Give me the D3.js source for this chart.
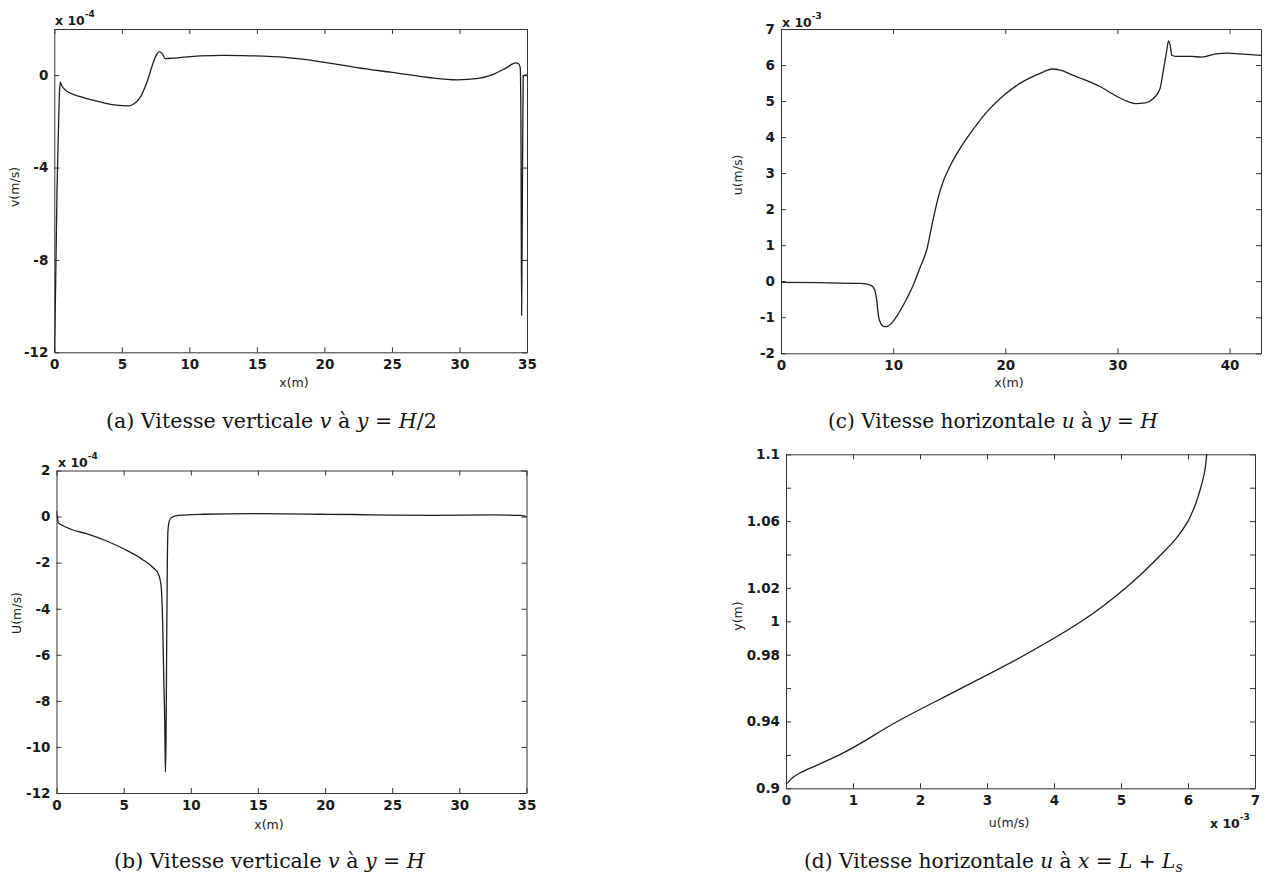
<!DOCTYPE html>
<html><head><meta charset="utf-8">
<script src="https://cdn.jsdelivr.net/npm/d3@7"></script>
<style>
body{margin:0;background:#fff}
svg{display:block}
.tick text{font-family:"DejaVu Sans",sans-serif;font-weight:bold;font-size:13.5px;fill:#1a1a1a}
.domain,.tick line{stroke:#333;stroke-width:1}
</style>
</head><body>
<svg id="c" width="1269" height="878"></svg>
<script>
// ---- Panel (a): vertical velocity v at y = H/2 (x 1e-4)
const aX = [0.02,0.1,0.2,0.3,0.38,0.44,0.55,0.9,1.5,2.15,3.4,4.6,5.5,5.85,6.35,6.85,7.33,7.6,7.8,8.0,8.2,8.8,10.8,12.5,14.5,17.1,19.75,22.4,25.0,27.7,29.8,31.4,32.4,33.5,34.15,34.37,34.5,34.55,34.6,34.66,34.72,34.8,35];
const aV = [-12,-9,-5,-2.5,-0.8,-0.3,-0.45,-0.68,-0.85,-0.97,-1.16,-1.3,-1.33,-1.26,-0.97,-0.32,0.55,0.92,1.02,0.92,0.72,0.74,0.84,0.86,0.84,0.77,0.58,0.33,0.12,-0.1,-0.2,-0.14,0.01,0.33,0.53,0.5,0.33,-2,-10.4,-5,-0.1,0,0];
const aXTicks = [0,5,10,15,20,25,30,35];
const aYTicks = [-12,-8,-4,0];

// ---- Panel (b): vertical velocity v at y = H (x 1e-4)
const bX = [0,0.05,0.13,0.5,1.07,2.4,3.73,5.07,6.4,7.2,7.6,7.79,7.9,8.0,8.06,8.11,8.16,8.2,8.25,8.3,8.4,8.54,9.07,11,14.4,17,19.7,22,25.1,28,32.5,34.5,35];
const bV = [0.25,0.05,-0.26,-0.4,-0.55,-0.77,-1.06,-1.42,-1.86,-2.22,-2.51,-3.02,-4.47,-7.38,-8.83,-11.1,-9.5,-5.9,-2.2,-0.6,-0.2,-0.05,0.05,0.1,0.13,0.12,0.1,0.09,0.06,0.05,0.07,0.05,0];
const bXTicks = [0,5,10,15,20,25,30,35];
const bYTicks = [-12,-10,-8,-6,-4,-2,0,2];

// ---- Panel (c): horizontal velocity u at y = H (x 1e-3)
const cX = [0,3.5,7.1,8.0,8.36,8.53,8.7,8.9,9.17,9.4,9.78,10.3,11.0,11.73,12.4,13.0,13.5,14.0,14.5,15.0,16.0,17.1,18.5,19.9,21.3,23.1,24.2,24.9,26.0,27.0,28.4,29.5,30.6,31.6,32.5,33.2,33.8,34.1,34.4,34.55,34.7,34.85,35.2,36.6,37.5,38.8,39.8,40.9,42.8];
const cU = [-0.03,-0.04,-0.06,-0.11,-0.24,-0.52,-0.98,-1.17,-1.26,-1.26,-1.19,-0.98,-0.61,-0.15,0.38,0.88,1.62,2.3,2.8,3.15,3.7,4.2,4.75,5.17,5.49,5.77,5.89,5.86,5.72,5.6,5.41,5.21,5.03,4.93,4.95,5.07,5.35,5.86,6.41,6.67,6.55,6.27,6.24,6.24,6.22,6.31,6.33,6.31,6.27];
const cXTicks = [0,10,20,30,40];
const cYTicks = [-2,-1,0,1,2,3,4,5,6,7];

// ---- Panel (d): horizontal velocity u at x = L + Ls (u x 1e-3)
const dU = [0.02,0.1,0.2,0.5,0.82,1.66,2.62,3.57,4.41,5.07,5.6,5.83,6.0,6.11,6.19,6.25,6.28];
const dY = [0.903,0.9065,0.909,0.9145,0.9205,0.94,0.96,0.98,1.0,1.02,1.04,1.05,1.06,1.07,1.08,1.09,1.1];
const dXTicks = [0,1,2,3,4,5,6,7];
const dYTicks = [0.9,0.92,0.94,0.96,0.98,1.0,1.02,1.04,1.06,1.08,1.1];
const dYLabelled = [0.9,0.94,0.98,1.0,1.02,1.06,1.1];

const svg = d3.select("#c");
const fmt = d => String(+d.toFixed(2));

const panels = [
  {box:{l:54.3,r:527,t:29,b:352.3}, xDom:[0,35], yDom:[-12,2], xTicks:aXTicks, yTicks:aYTicks, yLab:null,
   xs:aX, ys:aV, curve:d3.curveMonotoneX,
   xLabel:"x(m)", xLP:[294,387], yLabel:"v(m/s)", yLP:[15,187], exp:{t:"-4", x:55, y:25},
   cap:[["(a) Vitesse verticale ",0],["v",1],[" à ",0],["y",1],[" = ",0],["H",1],["/2",0]], capX:[106,437], capY:428},
  {box:{l:56.5,r:526.5,t:470.5,b:793}, xDom:[0,35], yDom:[-12,2], xTicks:bXTicks, yTicks:bYTicks, yLab:null,
   xs:bX, ys:bV, curve:d3.curveMonotoneX,
   xLabel:"x(m)", xLP:[269,829], yLabel:"U(m/s)", yLP:[17,613], exp:{t:"-4", x:58, y:467},
   cap:[["(b) Vitesse verticale ",0],["v",1],[" à ",0],["y",1],[" = ",0],["H",1]], capX:[114,425], capY:868},
  {box:{l:781,r:1261,t:29,b:353.3}, xDom:[0,42.8], yDom:[-2,7], xTicks:cXTicks, yTicks:cYTicks, yLab:null,
   xs:cX, ys:cU, curve:d3.curveMonotoneX,
   xLabel:"x(m)", xLP:[1009,387], yLabel:"u(m/s)", yLP:[738,175], exp:{t:"-3", x:782, y:27},
   cap:[["(c) Vitesse horizontale ",0],["u",1],[" à ",0],["y",1],[" = ",0],["H",1]], capX:[828,1158], capY:428},
  {box:{l:786,r:1255,t:454.3,b:788.3}, xDom:[0,7], yDom:[0.9,1.1], xTicks:dXTicks, yTicks:dYTicks, yLab:dYLabelled,
   xs:dU, ys:dY, curve:d3.curveMonotoneY,
   xLabel:"u(m/s)", xLP:[1009,827], yLabel:"y(m)", yLP:[738,616], exp:{t:"-3", x:1210, y:828},
   cap:[["(d) Vitesse horizontale ",0],["u",1],[" à ",0],["x",1],[" = ",0],["L",1],[" + ",0],["L",1],["s",2]], capX:[804,1183], capY:868}
];

panels.forEach((p,i) => {
  const x = d3.scaleLinear().domain(p.xDom).range([p.box.l,p.box.r]);
  const y = d3.scaleLinear().domain(p.yDom).range([p.box.b,p.box.t]);
  const g = svg.append("g");
  const yf = p.yLab ? (d => p.yLab.some(v => Math.abs(v-d)<1e-9) ? fmt(d) : "") : fmt;

  g.append("g").attr("transform",`translate(0,${p.box.b})`)
    .call(d3.axisBottom(x).tickValues(p.xTicks).tickSizeInner(-5).tickSizeOuter(0).tickPadding(7).tickFormat(fmt));
  g.append("g").attr("transform",`translate(0,${p.box.t})`)
    .call(d3.axisTop(x).tickValues(p.xTicks).tickSizeInner(-5).tickSizeOuter(0).tickFormat(""));
  g.append("g").attr("transform",`translate(${p.box.l},0)`)
    .call(d3.axisLeft(y).tickValues(p.yTicks).tickSizeInner(-5).tickSizeOuter(0).tickPadding(6).tickFormat(yf));
  g.append("g").attr("transform",`translate(${p.box.r},0)`)
    .call(d3.axisRight(y).tickValues(p.yTicks).tickSizeInner(-5).tickSizeOuter(0).tickFormat(""));
  g.selectAll(".domain").attr("stroke","#333");
  g.selectAll(".tick line").attr("stroke","#333");

  const clipId = "clip"+i;
  svg.append("clipPath").attr("id",clipId).append("rect")
    .attr("x",p.box.l).attr("y",p.box.t-1).attr("width",p.box.r-p.box.l).attr("height",p.box.b-p.box.t+2);
  const pts = p.xs.map((v,k)=>[v,p.ys[k]]);
  g.append("path").datum(pts).attr("clip-path",`url(#${clipId})`)
    .attr("fill","none").attr("stroke","#1e1e1e").attr("stroke-width",1.3)
    .attr("d", d3.line().x(d=>x(d[0])).y(d=>y(d[1])).curve(p.curve));

  // axis labels
  g.append("text").attr("x",p.xLP[0]).attr("y",p.xLP[1]).attr("text-anchor","middle")
    .attr("font-family","DejaVu Sans, sans-serif").attr("font-size",12.5).attr("fill","#222").text(p.xLabel);
  g.append("text").attr("transform",`translate(${p.yLP[0]},${p.yLP[1]}) rotate(-90)`).attr("text-anchor","middle")
    .attr("dy","0.35em").attr("font-family","DejaVu Sans, sans-serif").attr("font-size",12.5).attr("fill","#222").text(p.yLabel);

  // exponent
  const e = g.append("text").attr("x",p.exp.x).attr("y",p.exp.y)
    .attr("font-family","DejaVu Sans, sans-serif").attr("font-weight","bold").attr("font-size",12.5).attr("fill","#1a1a1a");
  e.append("tspan").text("x 10");
  e.append("tspan").attr("dy",-8).attr("font-size",9).text(p.exp.t);

  // caption
  const c = g.append("text").attr("y",p.capY).attr("x",0)
    .attr("font-family","DejaVu Serif, serif").attr("font-size",17).attr("fill","#111");
  p.cap.forEach(([t,s]) => {
    const ts = c.append("tspan").text(t);
    if (s>=1) ts.attr("font-style","italic");
    if (s===2) ts.attr("font-size",12).attr("dy",4);
  });
  const w = c.node().getComputedTextLength();
  const target = p.capX[1]-p.capX[0];
  const fs = 17*target/w;
  c.attr("font-size",fs);
  c.selectAll("tspan").filter(function(){return d3.select(this).attr("font-size")!==null;}).attr("font-size",fs*0.7);
  c.attr("x",p.capX[0]);
});
</script>
</body></html>
